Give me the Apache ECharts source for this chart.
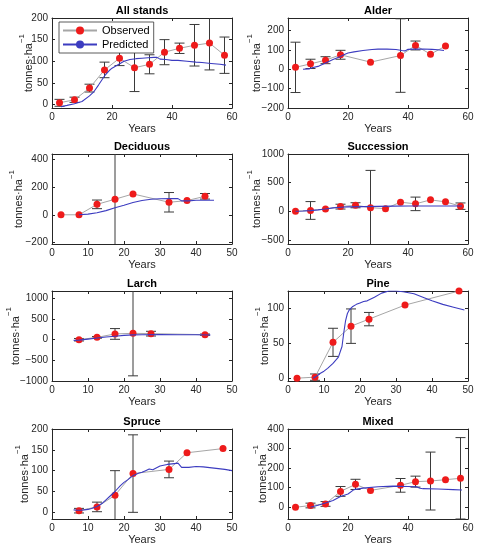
<!DOCTYPE html>
<html>
<head>
<meta charset="utf-8">
<script src="https://cdn.jsdelivr.net/npm/echarts@6/dist/echarts.min.js"></script>
<style>html,body{margin:0;padding:0;background:#fff}#c{width:477px;height:550px}</style>
</head>
<body>
<div id="c"></div>
<script>
// ---------- data ----------
const titles = ['All stands','Alder','Deciduous','Succession','Larch','Pine','Spruce','Mixed'];
const xMax = [60,60,50,60,50,50,50,60];
const xStep = [20,20,10,20,10,10,10,20];
const yMin = [-8,-200,-210,-570,-1000,-4,-16,-60];
const yMax = [200,265,437,1000,1180,124,200,400];
const yTicks = [
  [0,50,100,150,200],
  [-200,-100,0,100,200],
  [-200,0,200,400],
  [-500,0,500,1000],
  [-1000,-500,0,500,1000],
  [0,50,100],
  [0,50,100,150,200],
  [0,100,200,300,400]
];

// observed: ages, means, error half-widths (null = no bar)
const obsAllX = [2.5,7.5,12.5,17.5,22.5,27.5,32.5,37.5,42.5,47.5,52.5,57.5];
const obsAllY = [4,11,38,80,107,85,93,121,130,137,142,114];
const obsAllE = [8,6,9,18,17,55,22,29,12,48,62,42];

const obsAlderX = [2.5,7.5,12.5,17.5,27.5,37.5,42.5,47.5,52.5];
const obsAlderY = [10,28,47,75,37,71,123,78,120];
const obsAlderE = [130,24,18,23,null,190,23,null,null];

const obsDecX = [2.5,7.5,12.5,17.5,22.5,32.5,37.5,42.5];
const obsDecY = [0,0,75,112,150,90,102,133];
const obsDecE = [null,null,31,700,null,70,null,20];

const obsSucX = [2.5,7.5,12.5,17.5,22.5,27.5,32.5,37.5,42.5,47.5,52.5,57.5];
const obsSucY = [0,15,40,82,106,64,47,160,130,200,165,90];
const obsSucE = [null,155,null,42,44,650,null,null,118,null,null,56];

const obsLarX = [7.5,12.5,17.5,22.5,27.5,42.5];
const obsLarY = [0,57,140,155,147,122];
const obsLarE = [30,20,130,1030,57,15];

const obsPinX = [2.5,7.5,12.5,17.5,22.5,32.5,47.5];
const obsPinY = [0,1.5,51,74,84,104,124];
const obsPinE = [null,4.5,20,24.5,9.5,null,null];

const obsSprX = [7.5,12.5,17.5,22.5,32.5,37.5,47.5];
const obsSprY = [4,13,41,93,103,143,153];
const obsSprE = [5.5,11.5,59,93,20,null,null];

const obsMixX = [2.5,7.5,12.5,17.5,22.5,27.5,37.5,42.5,47.5,52.5,57.5];
const obsMixY = [0,9,17,81,117,86,112,131,134,141,148];
const obsMixE = [null,12,12,25,26,null,35,28,148,null,208];

// predicted curves [age, value]
const predAll = [[3,-5],[5,-2],[7.5,2],[10,7],[12.5,20],[14,30],[15.5,45],[17.5,66],[19,78],[20,84],[22,92],[24,100],[26,104],[28,106],[30,107],[32,108],[34,109],[35,109],[36,105],[38,104],[40,102],[42,102],[45,100],[48,98],[50,97],[53,95],[56,93],[58,91]];
const predAlder = [[5,0],[7,2],[8,8],[10,15],[12.5,33],[15,50],[17.5,66],[19,78],[20,84],[22,90],[25,97],[28,102],[30,104],[33,104],[36,102],[38,97],[39,95],[40,103],[42,104],[45,105],[48,103],[50,101],[52,97]];
const predDec = [[7.5,0],[10,5],[12.5,15],[15,30],[17.5,50],[20,68],[22.5,88],[25,103],[27.5,112],[30,115],[33,116],[35,116],[36,100],[38,100],[40,104],[42,105],[45,104]];
const predSuc = [[2.5,0],[5,5],[7.5,12],[10,25],[12.5,40],[15,60],[17.5,72],[20,78],[25,82],[30,86],[35,90],[40,92],[45,92],[50,92],[55,92],[58,92]];
const predLar = [[6,-15],[7.5,-10],[10,15],[12.5,40],[15,65],[17.5,85],[20,105],[22.5,118],[25,122],[30,123],[35,122],[40,120],[44,115]];
const predPin = [[7,0],[8,3],[9,7],[10,10],[11,14],[12.5,21],[14,30],[15,45],[15.5,65],[16,82],[16.5,92],[17,97],[18,102],[19,105],[20,107],[21,109],[22,110],[24,115],[26,121],[28,124],[30,124],[32,123],[35,120],[38,114],[40,110],[43,105],[46,101],[49,97]];
const predSpr = [[6,6],[7,5],[8,5],[9,6],[10,7],[11,9],[12.5,14],[14,22],[15,30],[16,38],[17.5,50],[19,64],[20,72],[21,78],[22.5,88],[24,94],[25,96],[26,100],[27,104],[28,102],[30,111],[32,115],[34,117],[35,118],[36,108],[38,108],[40,110],[42,109],[45,106],[48,103],[50,100]];
const predMix = [[7.5,0],[10,10],[12.5,22],[15,35],[17.5,55],[20,68],[22,90],[25,98],[30,105],[35,108],[40,106],[43,104],[44,97],[45,95],[50,93],[55,90],[58,88]];

const obsX = [obsAllX,obsAlderX,obsDecX,obsSucX,obsLarX,obsPinX,obsSprX,obsMixX];
const obsY = [obsAllY,obsAlderY,obsDecY,obsSucY,obsLarY,obsPinY,obsSprY,obsMixY];
const obsE = [obsAllE,obsAlderE,obsDecE,obsSucE,obsLarE,obsPinE,obsSprE,obsMixE];
const preds = [predAll,predAlder,predDec,predSuc,predLar,predPin,predSpr,predMix];

// ---------- layout ----------
const colLeft = [52, 288];
const rowTop = [18, 154, 291, 429];
const W = 180, H = 90;
const yNameGap = [18, 26, 28, 26, 31, 18, 22, 20];
const FONT = '"Liberation Sans", Arial, Helvetica, sans-serif';
const AX = '#262626';
const minus = v => (v < 0 ? '\u2212' + Math.abs(v) : String(v));

const grid = [], xAxis = [], yAxis = [], series = [], title = [];

for (let i = 0; i < 8; i++) {
  const L = colLeft[i % 2], T = rowTop[Math.floor(i / 2)];
  grid.push({left: L, top: T, width: W, height: H, containLabel: false});
  title.push({
    text: titles[i], left: L + W / 2, top: T - 13, textAlign: 'center', padding: 0,
    textStyle: {fontFamily: FONT, fontSize: 11, fontWeight: 'bold', color: '#000'}
  });
  const xCommon = {
    type: 'value', gridIndex: i, min: 0, max: xMax[i], interval: xStep[i],
    axisLine: {show: true, onZero: false, lineStyle: {color: AX, width: 1}},
    axisTick: {show: true, inside: true, length: 3, lineStyle: {color: AX}},
    splitLine: {show: false}
  };
  xAxis.push(Object.assign({}, xCommon, {
    position: 'bottom',
    name: 'Years', nameLocation: 'middle', nameGap: 15,
    nameTextStyle: {fontFamily: FONT, fontSize: 11, color: AX},
    axisLabel: {show: true, margin: 4, fontFamily: FONT, fontSize: 10, color: AX, formatter: minus}
  }));
  xAxis.push(Object.assign({}, xCommon, {position: 'top', axisLabel: {show: false}}));
  const yCommon = {
    type: 'value', gridIndex: i, min: yMin[i], max: yMax[i],
    axisLine: {show: true, onZero: false, lineStyle: {color: AX, width: 1}},
    axisTick: {show: true, inside: true, length: 3, lineStyle: {color: AX}, customValues: yTicks[i]},
    splitLine: {show: false}
  };
  yAxis.push(Object.assign({}, yCommon, {
    position: 'left',
    name: '{a|tonnes\u00B7ha}{s|\u22121}', nameLocation: 'middle', nameRotate: 90,
    nameGap: yNameGap[i], nameMoveOverlap: false,
    nameTextStyle: {
      fontFamily: FONT, color: AX,
      rich: {
        a: {fontFamily: FONT, fontSize: 11, color: AX, lineHeight: 16, verticalAlign: 'bottom'},
        s: {fontFamily: FONT, fontSize: 8, color: AX, lineHeight: 9, verticalAlign: 'top'}
      }
    },
    axisLabel: {show: true, margin: 4, fontFamily: FONT, fontSize: 10, color: AX, formatter: minus, customValues: yTicks[i]}
  }));
  yAxis.push(Object.assign({}, yCommon, {position: 'right', axisLabel: {show: false}}));

  const xi = 2 * i, yi = 2 * i;
  const errData = [];
  const lineData = [];
  for (let k = 0; k < obsX[i].length; k++) {
    lineData.push([obsX[i][k], obsY[i][k]]);
    if (obsE[i][k] != null) errData.push([obsX[i][k], obsY[i][k], obsE[i][k]]);
  }
  series.push({
    type: 'custom', name: 'err' + i, xAxisIndex: xi, yAxisIndex: yi, z: 2,
    encode: {x: 0, y: 1}, silent: true,
    data: errData,
    renderItem: function (params, api) {
      const cs = params.coordSys;
      const x = api.value(0), y = api.value(1), e = api.value(2);
      const pTop = api.coord([x, y + e]);
      const pBot = api.coord([x, y - e]);
      const y0 = cs.y, y1 = cs.y + cs.height;
      const tt = Math.max(pTop[1], y0), bb = Math.min(pBot[1], y1);
      const cx = pTop[0], hw = 5;
      const st = {stroke: '#3a3a3a', lineWidth: 1, fill: null};
      const ch = [{type: 'line', shape: {x1: cx, y1: tt, x2: cx, y2: bb}, style: st}];
      if (pTop[1] >= y0) ch.push({type: 'line', shape: {x1: cx - hw, y1: tt, x2: cx + hw, y2: tt}, style: st});
      if (pBot[1] <= y1) ch.push({type: 'line', shape: {x1: cx - hw, y1: bb, x2: cx + hw, y2: bb}, style: st});
      return {type: 'group', children: ch};
    }
  });
  series.push({
    type: 'line', name: 'Observed', xAxisIndex: xi, yAxisIndex: yi, z: 3,
    data: lineData, symbol: 'circle', symbolSize: 7, showAllSymbol: true,
    lineStyle: {color: '#a6a6a6', width: 1},
    itemStyle: {color: '#ee1b1b', borderColor: '#ee1b1b', borderWidth: 0},
    emphasis: {disabled: true}, animation: false
  });
  series.push({
    type: 'line', name: 'Predicted', xAxisIndex: xi, yAxisIndex: yi, z: 4,
    data: preds[i], symbol: 'none', smooth: false,
    lineStyle: {color: '#3c3cc0', width: 1.1},
    itemStyle: {color: '#3c3cc0'},
    emphasis: {disabled: true}, animation: false
  });
}

const chart = echarts.init(document.getElementById('c'), null, {renderer: 'canvas'});
chart.setOption({
  animation: false,
  backgroundColor: '#fff',
  title: title,
  grid: grid,
  xAxis: xAxis,
  yAxis: yAxis,
  legend: {
    data: ['Observed', 'Predicted'], orient: 'vertical', left: 59, top: 22,
    itemWidth: 34, itemHeight: 10, itemGap: 3, padding: [3, 4, 3, 3],
    backgroundColor: '#fff', borderColor: '#333', borderWidth: 0.8, borderRadius: 0,
    textStyle: {fontFamily: FONT, fontSize: 11, color: '#000'},
    selectedMode: false
  },
  series: series
});
</script>
</body>
</html>
